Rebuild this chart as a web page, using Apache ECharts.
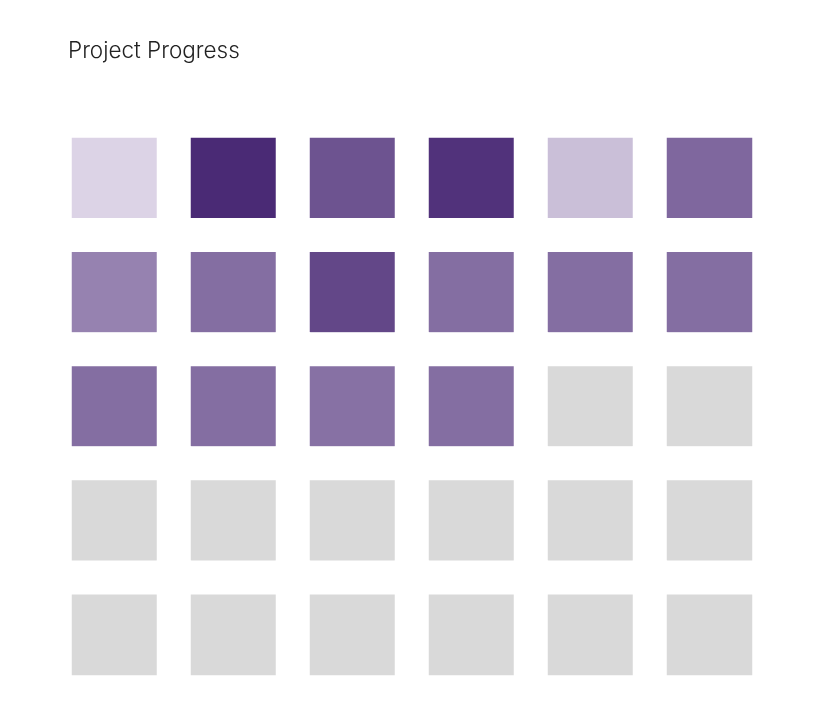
<!DOCTYPE html>
<html>
<head>
<meta charset="utf-8">
<script src="https://cdn.jsdelivr.net/npm/echarts@6/dist/echarts.min.js"></script>
<style>html,body{margin:0;padding:0;background:#fff;}#main{width:816px;height:716px;}</style>
</head>
<body>
<div id="main"></div>
<script>
var columns = ['C1', 'C2', 'C3', 'C4', 'C5', 'C6'];
var rows = ['R1', 'R2', 'R3', 'R4', 'R5'];
// progress values per row (null = not started)
var row1 = [0, 100, 76, 95, 12, 64];
var row2 = [48, 60, 83, 60, 60, 60];
var row3 = [60, 60, 58, 60, null, null];
var row4 = [null, null, null, null, null, null];
var row5 = [null, null, null, null, null, null];
var rowValues = [row1, row2, row3, row4, row5];

var done = [], pending = [];
rowValues.forEach(function (vals, r) {
  vals.forEach(function (v, c) {
    if (v === null) pending.push([c, r, 0]);
    else done.push([c, r, v]);
  });
});

var chart = echarts.init(document.getElementById('main'));
chart.setOption({
  animation: false,
  title: {
    text: 'Project Progress',
    left: 63, top: 35,
    textStyle: { fontFamily: 'Inter', fontSize: 22.5, fontWeight: 300, color: '#222' }
  },
  grid: { left: 55, right: 47, top: 121, bottom: 24 },
  xAxis: { type: 'category', data: columns, show: false },
  yAxis: { type: 'category', data: rows, inverse: true, show: false },
  visualMap: {
    show: false, seriesIndex: 0, min: 0, max: 100, dimension: 2,
    inRange: { color: ['#dcd3e6', '#4a2a75'] }
  },
  series: [
    {
      type: 'heatmap', data: done,
      itemStyle: { borderColor: '#fff', borderWidth: 34 },
      emphasis: { disabled: true }
    },
    {
      type: 'heatmap', data: pending,
      itemStyle: { color: '#d9d9d9', borderColor: '#fff', borderWidth: 34 },
      emphasis: { disabled: true }
    }
  ]
});
</script>
</body>
</html>
